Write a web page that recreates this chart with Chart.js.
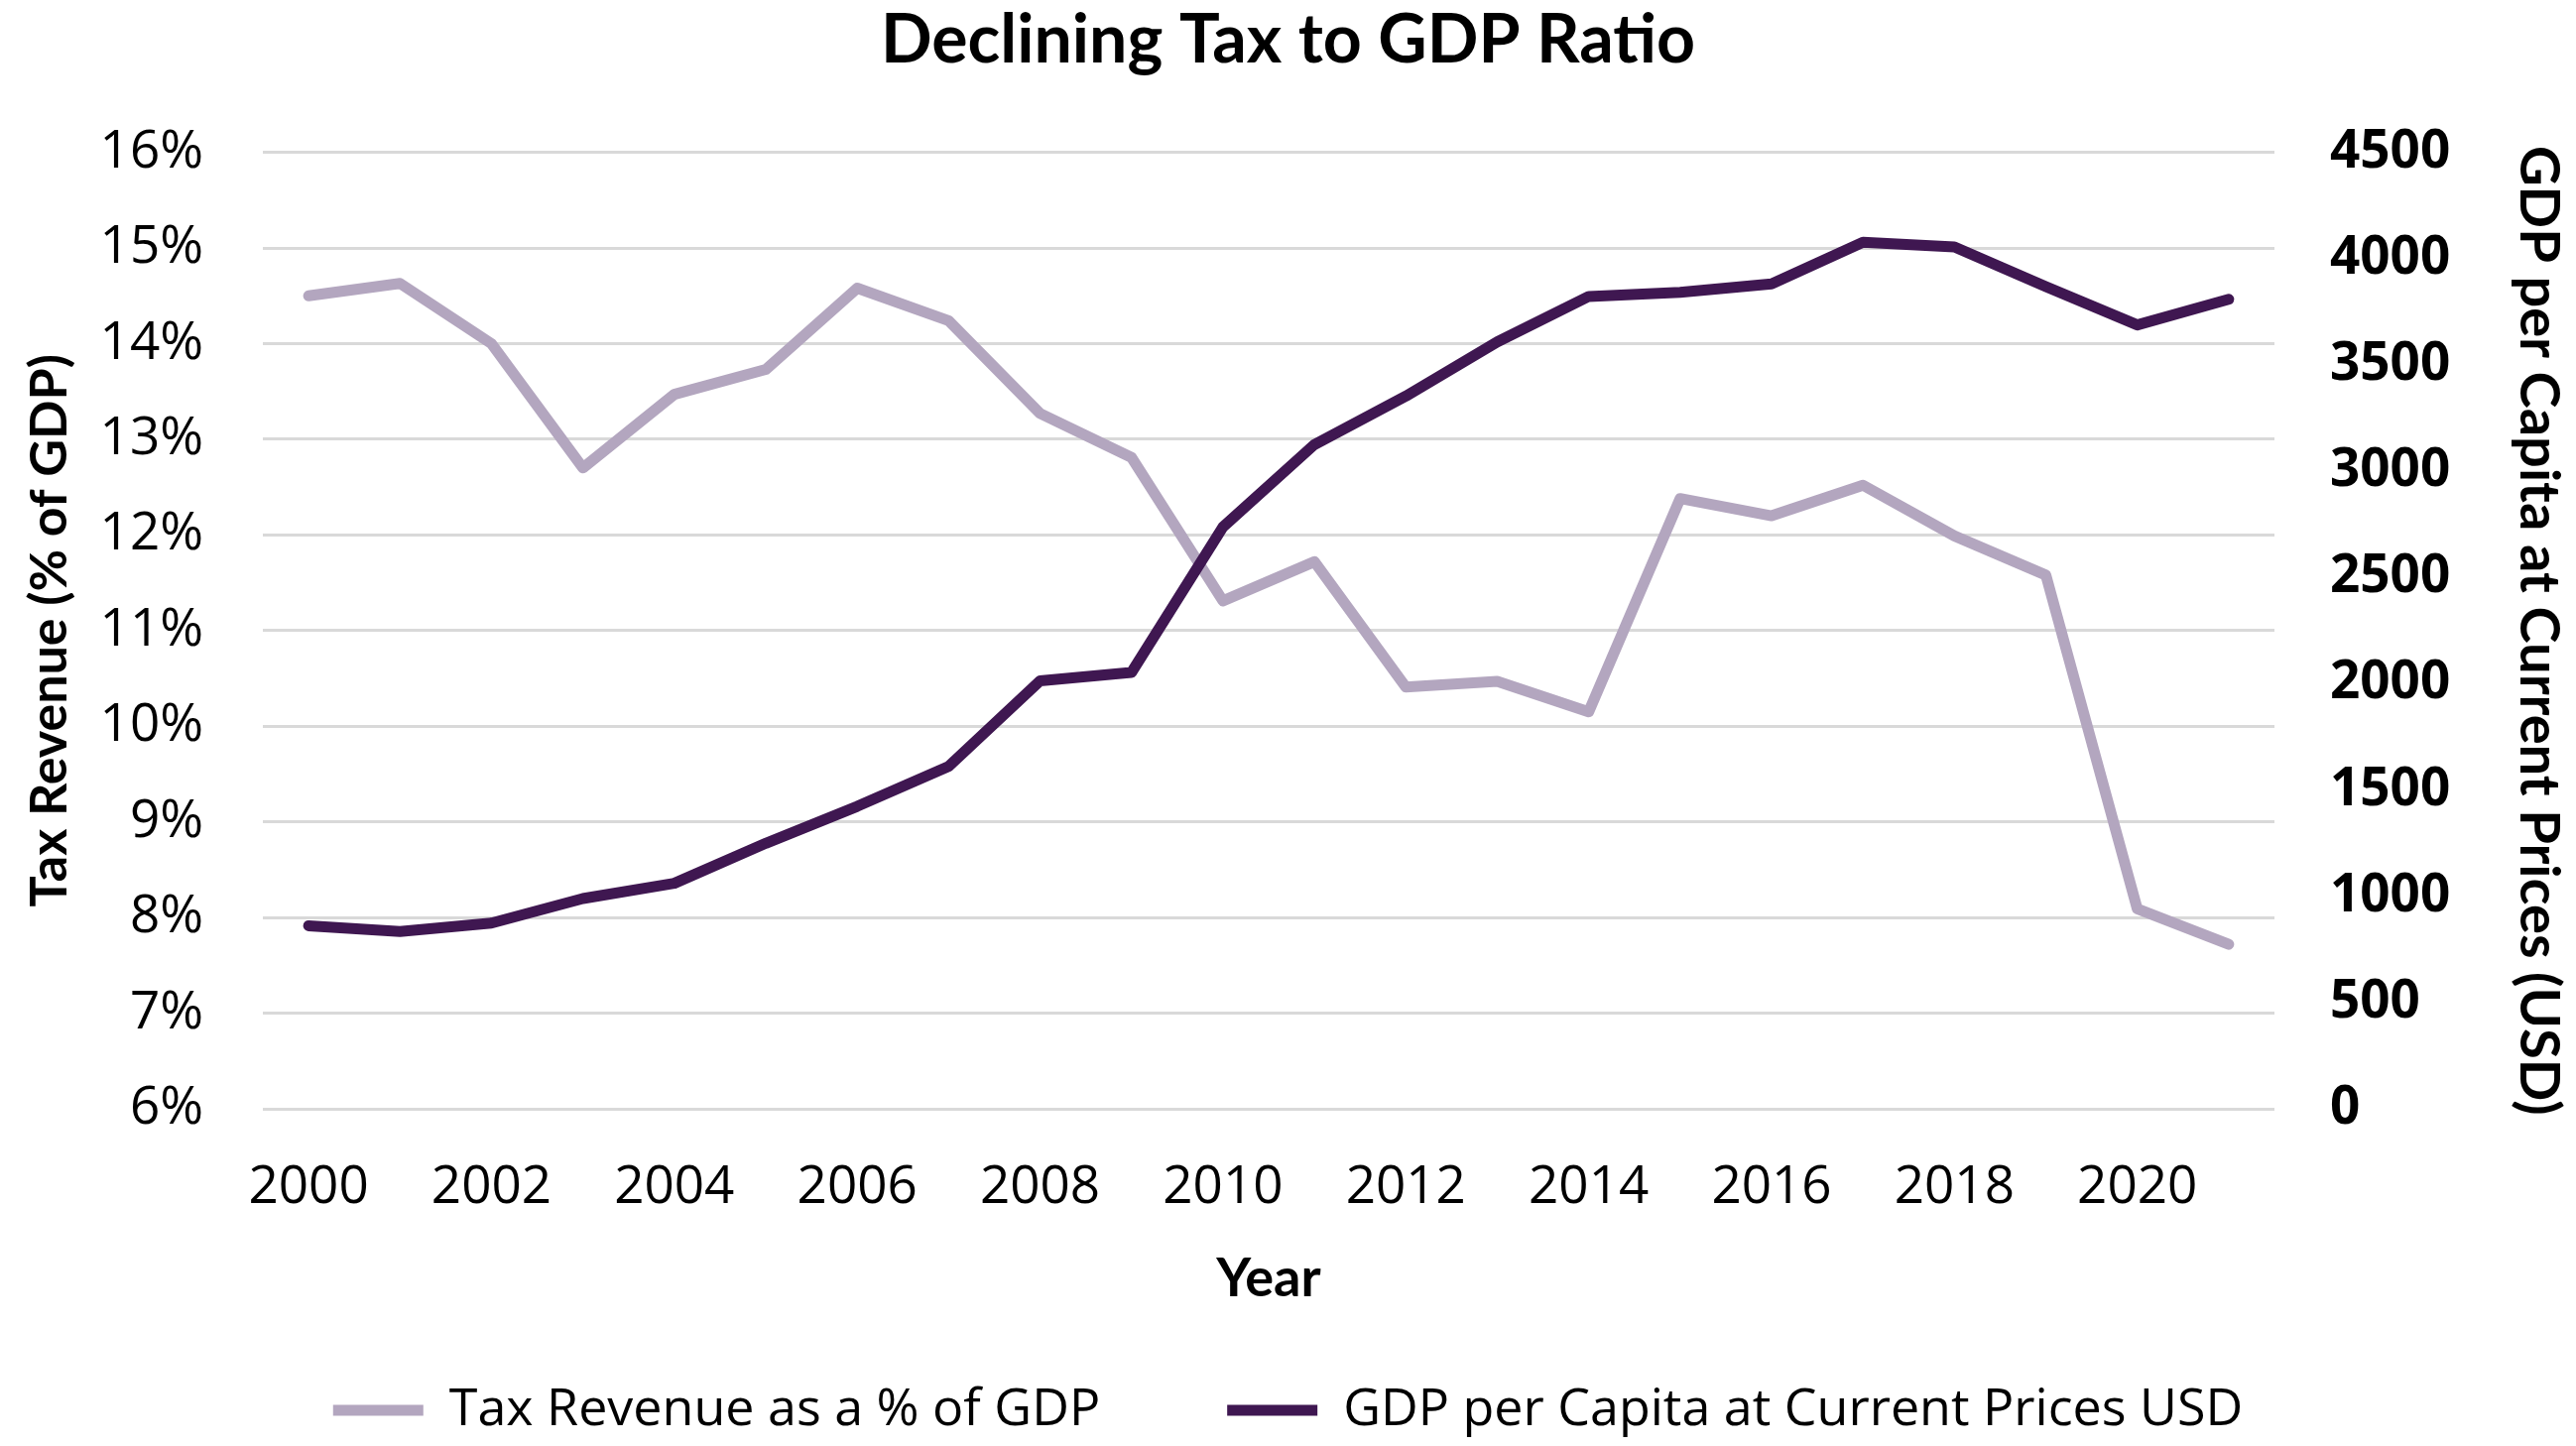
<!DOCTYPE html>
<html>
<head>
<meta charset="utf-8">
<script src="https://cdn.jsdelivr.net/npm/chart.js@4.4.1/dist/chart.umd.min.js"></script>
<style>
  html, body { margin: 0; padding: 0; background: #fff; }
  canvas { display: block; }
</style>
</head>
<body>
<canvas id="taxChart" width="2597" height="1458"></canvas>
<script>
const years = ["2000", "2001", "2002", "2003", "2004", "2005", "2006", "2007", "2008", "2009", "2010",
               "2011", "2012", "2013", "2014", "2015", "2016", "2017", "2018", "2019", "2020", "2021"];
// tax revenue, % of GDP
const taxRatio = [14.5, 14.63, 14.0, 12.7, 13.47, 13.73, 14.58, 14.24, 13.27, 12.81, 11.31,
                  11.72, 10.41, 10.47, 10.15, 12.38, 12.2, 12.52, 11.99, 11.58, 8.09, 7.72];
// GDP per capita, current USD
const gdpPerCapita = [861, 834, 874, 989, 1061, 1249, 1423, 1611, 2013, 2053, 2737,
                      3125, 3353, 3608, 3822, 3841, 3881, 4077, 4055, 3868, 3688, 3809];

const lightPurple = "#b3a6bf";
const darkPurple = "#3f1751";
const headFont = "Lato";
const bodyFont = "Open Sans";

let ctx = document.getElementById("taxChart");
let chart = new Chart(ctx, {
    type: 'line',
    data: {
        labels: years,
        datasets: [{
            label: "Tax Revenue as a % of GDP",
            data: taxRatio,
            yAxisID: 'y',
            borderColor: lightPurple,
            backgroundColor: lightPurple,
            borderWidth: 11,
            borderCapStyle: 'round',
            borderJoinStyle: 'round',
            pointRadius: 0,
            order: 1
        },
        {
            label: "GDP per Capita at Current Prices USD",
            data: gdpPerCapita,
            yAxisID: 'y1',
            borderColor: darkPurple,
            backgroundColor: darkPurple,
            borderWidth: 11,
            borderCapStyle: 'round',
            borderJoinStyle: 'round',
            pointRadius: 0,
            order: 0
        }]
    },
    options: {
        responsive: false,
        animation: false,
        plugins: {
            title: {
                display: true,
                text: "Declining Tax to GDP Ratio",
                color: "#000",
                font: { family: headFont, size: 68, weight: 'bold', lineHeight: 1.2 },
                padding: { top: 0, bottom: 72 }
            },
            legend: {
                position: 'bottom',
                labels: {
                    color: "#000",
                    font: { family: bodyFont, size: 52 },
                    boxWidth: 91,
                    boxHeight: 11,
                    padding: 128,
                    sort: (a, b) => a.datasetIndex - b.datasetIndex,
                    generateLabels: (c) => Chart.defaults.plugins.legend.labels.generateLabels(c)
                        .map(item => ({ ...item, lineWidth: 0 }))
                }
            },
            tooltip: { enabled: false }
        },
        scales: {
            x: {
                offset: true,
                grid: { display: false, drawTicks: false },
                border: { display: false },
                ticks: {
                    color: "#000",
                    font: { family: bodyFont, size: 53 },
                    padding: 48,
                    autoSkip: false,
                    maxRotation: 0,
                    callback: function (value, index) {
                        return index % 2 === 0 ? this.getLabelForValue(value) : '';
                    }
                },
                title: {
                    display: true,
                    text: "Year",
                    color: "#000",
                    font: { family: headFont, size: 54, weight: 'bold', lineHeight: 1.2 },
                    padding: { top: 0, bottom: -54 }
                },
                afterFit: (scale) => { scale.height = 150; }
            },
            y: {
                position: 'left',
                min: 6,
                max: 16,
                grid: { color: "#d9d9d9", lineWidth: 3, drawTicks: false },
                border: { display: false },
                ticks: {
                    stepSize: 1,
                    color: "#000",
                    font: { family: bodyFont, size: 53 },
                    padding: 60,
                    callback: (v) => v + "%"
                },
                title: {
                    display: true,
                    text: "Tax Revenue (% of GDP)",
                    color: "#000",
                    font: { family: headFont, size: 52, weight: 'bold', lineHeight: 1.2 },
                    padding: { top: 19, bottom: 0 }
                },
                afterFit: (scale) => { scale.width = 265; }
            },
            y1: {
                position: 'right',
                min: 0,
                max: 4500,
                grid: { display: false, drawTicks: false },
                border: { display: false },
                ticks: {
                    stepSize: 500,
                    color: "#000",
                    font: { family: bodyFont, size: 53, weight: 'bold' },
                    padding: 56,
                    callback: (v) => String(v)
                },
                title: {
                    display: true,
                    text: "GDP per Capita at Current Prices (USD)",
                    color: "#000",
                    font: { family: headFont, size: 56, weight: 'bold', lineHeight: 1.2 },
                    padding: { top: 4, bottom: 0 }
                },
                afterFit: (scale) => { scale.width = 304; }
            }
        }
    }
});
</script>
</body>
</html>
